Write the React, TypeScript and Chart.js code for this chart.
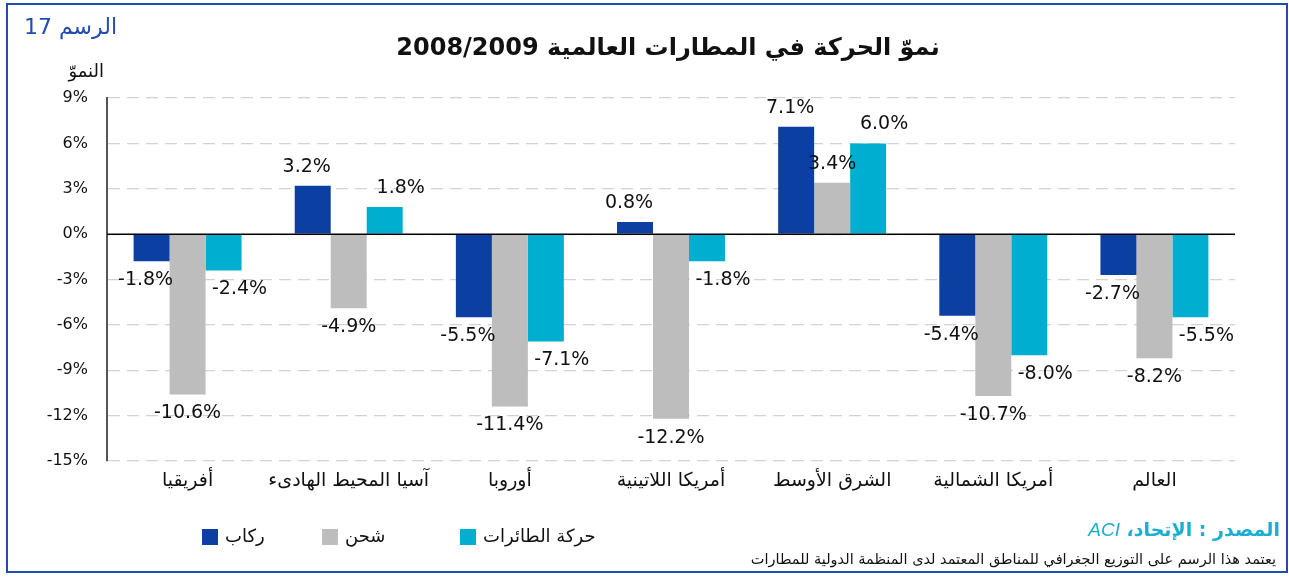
import React, { useEffect, useRef } from "react";
import { Chart, registerables } from "chart.js";

Chart.register(...registerables);

const categories = [
  "أفريقيا",
  "آسيا المحيط الهادىء",
  "أوروبا",
  "أمريكا اللاتينية",
  "الشرق الأوسط",
  "أمريكا الشمالية",
  "العالم",
];
const seriesNames = ["ركاب", "شحن", "حركة الطائرات"];
const passengers = [-1.8, 3.2, -5.5, 0.8, 7.1, -5.4, -2.7];
const freight = [-10.6, -4.9, -11.4, -12.2, 3.4, -10.7, -8.2];
const movements = [-2.4, 1.8, -7.1, -1.8, 6.0, -8.0, -5.5];
const yTicks = [-15, -12, -9, -6, -3, 0, 3, 6, 9];

const COLORS = ["#0b3fa1", "#bdbdbd", "#00aecf"];
const LABEL_DX = [-6, 0, 16];
const LEGEND_X = [202, 322, 460];
const AR_FONT = "'DejaVu Sans', sans-serif";

const labelPlugin = {
  id: "valueLabels",
  afterDatasetsDraw(chart: any) {
    const ctx = chart.ctx;
    const area = chart.chartArea;
    const yScale = chart.scales.y;
    const y0 = yScale.getPixelForValue(0);
    ctx.save();
    ctx.strokeStyle = "#000";
    ctx.lineWidth = 1.5;
    ctx.beginPath();
    ctx.moveTo(area.left, y0);
    ctx.lineTo(area.right, y0);
    ctx.stroke();
    ctx.font = "19px 'DejaVu Sans', sans-serif";
    ctx.fillStyle = "#111";
    ctx.textAlign = "center";
    ctx.textBaseline = "middle";
    chart.data.datasets.forEach((ds: any, di: number) => {
      const meta = chart.getDatasetMeta(di);
      meta.data.forEach((el: any, i: number) => {
        const v = ds.data[i];
        const y = v >= 0 ? el.y - 19 : el.y + 19;
        ctx.fillText(v.toFixed(1) + "%", el.x + LABEL_DX[di], y);
      });
    });
    ctx.font = "18px " + AR_FONT;
    ctx.textAlign = "left";
    chart.data.datasets.forEach((ds: any, di: number) => {
      const x = LEGEND_X[di];
      const y = 537;
      ctx.fillStyle = ds.backgroundColor;
      ctx.fillRect(x, y - 8, 16, 16);
      ctx.fillStyle = "#111";
      ctx.fillText(ds.label, x + 23, y);
    });
    ctx.restore();
  },
};

export default function App() {
  const ref = useRef<HTMLCanvasElement | null>(null);

  useEffect(() => {
    if (!ref.current) return;
    const chart = new Chart(ref.current, {
      type: "bar",
      data: {
        labels: categories,
        datasets: [passengers, freight, movements].map((d, i) => ({
          label: seriesNames[i],
          data: d,
          backgroundColor: COLORS[i],
          borderWidth: 0,
          barPercentage: 1,
          categoryPercentage: 0.67,
        })),
      },
      options: {
        animation: false,
        responsive: true,
        maintainAspectRatio: false,
        layout: { padding: { top: 98, right: 54, bottom: 76, left: 0 } },
        plugins: {
          legend: { display: false },
          tooltip: { enabled: false },
        },
        scales: {
          x: {
            grid: { display: false, drawTicks: false },
            border: { display: false },
            ticks: {
              padding: 9,
              color: "#111",
              maxRotation: 0,
              minRotation: 0,
              autoSkip: false,
              font: { family: AR_FONT, size: 19 },
            },
            afterFit: (s: any) => {
              s.height = 40;
            },
          },
          y: {
            min: -15,
            max: 9,
            afterBuildTicks: (s: any) => {
              s.ticks = yTicks.map((v) => ({ value: v }));
            },
            grid: {
              color: "#d2d2d2",
              lineWidth: 1.2,
              drawTicks: false,
            },
            border: { display: true, color: "#555", width: 2, dash: [12, 7] },
            ticks: {
              padding: 19,
              color: "#111",
              font: { family: "'DejaVu Sans', sans-serif", size: 16 },
              callback: (v: any) => v + "%",
            },
            afterFit: (s: any) => {
              s.width = 107;
            },
          },
        },
      },
      plugins: [labelPlugin],
    });
    return () => chart.destroy();
  }, []);

  return (
    <div
      style={{
        position: "fixed",
        left: 0,
        top: 0,
        width: 1289,
        height: 577,
        background: "#fff",
        overflow: "hidden",
        fontFamily: AR_FONT,
      }}
    >
      <div
        style={{
          position: "absolute",
          left: 6,
          top: 3,
          width: 1282,
          height: 570,
          border: "2px solid #1f4db5",
          boxSizing: "border-box",
        }}
      />
      <div style={{ position: "absolute", left: 0, top: 0, width: 1289, height: 577 }}>
        <canvas ref={ref} />
      </div>
      <div
        dir="rtl"
        style={{
          position: "absolute",
          left: 22,
          top: 11,
          width: 95,
          textAlign: "right",
          color: "#1f4db5",
          fontSize: 22,
          lineHeight: "32px",
          whiteSpace: "nowrap",
        }}
      >
        الرسم 17
      </div>
      <div
        dir="rtl"
        style={{
          position: "absolute",
          left: 0,
          width: 1336,
          top: 30,
          textAlign: "center",
          color: "#111",
          fontSize: 24,
          fontWeight: "bold",
          lineHeight: "34px",
          whiteSpace: "nowrap",
        }}
      >
        نموّ الحركة في المطارات العالمية 2008/2009
      </div>
      <div
        dir="rtl"
        style={{
          position: "absolute",
          left: 40,
          width: 64,
          top: 58,
          textAlign: "right",
          color: "#111",
          fontSize: 18,
          lineHeight: "26px",
          whiteSpace: "nowrap",
        }}
      >
        النموّ
      </div>
      <div
        dir="rtl"
        style={{
          position: "absolute",
          right: 9,
          top: 515,
          color: "#1aaed0",
          fontSize: 19,
          fontWeight: "bold",
          lineHeight: "28px",
          whiteSpace: "nowrap",
        }}
      >
        المصدر : الإتحاد، <span style={{ fontStyle: "italic", fontWeight: "normal", fontFamily: "'Liberation Sans', Arial, sans-serif" }}>ACI</span>
      </div>
      <div
        dir="rtl"
        style={{
          position: "absolute",
          right: 13,
          top: 548,
          color: "#111",
          fontSize: 14.5,
          lineHeight: "22px",
          whiteSpace: "nowrap",
        }}
      >
        يعتمد هذا الرسم على التوزيع الجغرافي للمناطق المعتمد لدى المنظمة الدولية للمطارات
      </div>
    </div>
  );
}
